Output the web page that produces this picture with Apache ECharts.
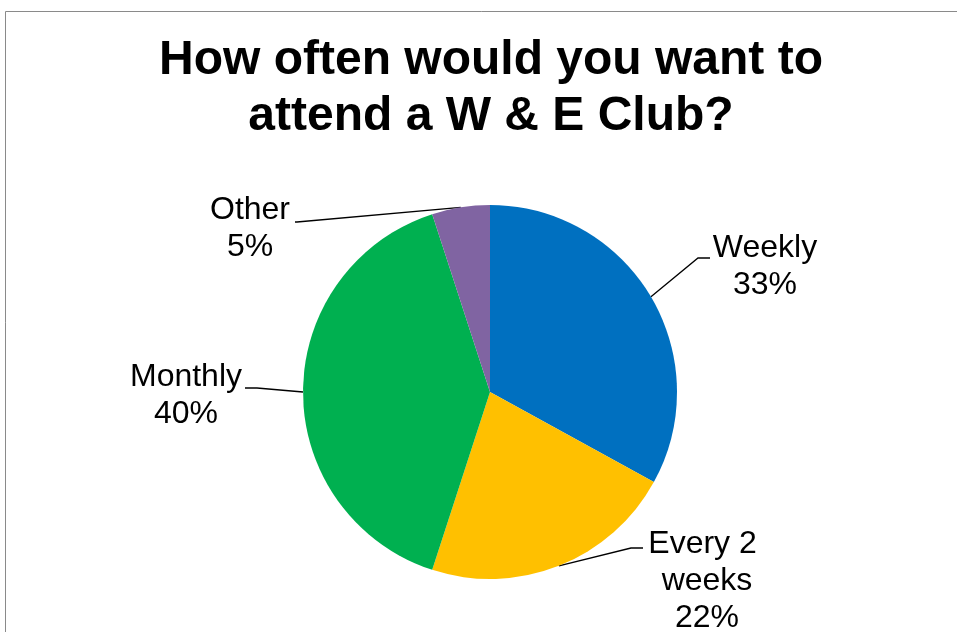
<!DOCTYPE html>
<html>
<head>
<meta charset="utf-8">
<script src="https://cdn.jsdelivr.net/npm/echarts@6/dist/echarts.min.js"></script>
<style>
  html, body { margin: 0; padding: 0; background: #fff; }
  #chart { width: 957px; height: 632px; }
</style>
</head>
<body>
<div id="chart"></div>
<script>
// Survey answers: how often people would attend
const categories = ['Weekly', 'Every 2 weeks', 'Monthly', 'Other'];
const shares = [33, 22, 40, 5];
const titleText = 'How often would you want to\nattend a W & E Club?';

const sliceColors = ['#0070C0', '#FFC000', '#00B050', '#8064A2'];
const FONT = "'Liberation Sans', Arial, Helvetica, sans-serif";

// Where each two/three-line label sits, and where its leader line ends
const labelSpots = [
  { x: 765, y: 267, endX: 710, endY: 258, bend: -12 },
  { x: 707, y: 581, endX: 643, endY: 548, bend: -12 },
  { x: 186, y: 396, endX: 245, endY: 388, bend: 12 },
  { x: 250, y: 229, endX: 295, endY: 222, bend: 2 }
];

const chart = echarts.init(document.getElementById('chart'), null, { renderer: 'canvas' });

chart.setOption({
  animation: false,
  backgroundColor: '#ffffff',
  color: sliceColors,
  graphic: [{
    type: 'rect',
    silent: true,
    shape: { x: 5.5, y: 11.5, width: 1200, height: 1200 },
    style: { fill: 'none', stroke: '#8a8a8a', lineWidth: 1 }
  }],
  title: {
    text: titleText,
    left: 491,
    textAlign: 'center',
    top: 33,
    padding: 0,
    textStyle: {
      fontFamily: FONT,
      fontSize: 48,
      fontWeight: 'bold',
      color: '#000',
      lineHeight: 56
    }
  },
  series: [{
    type: 'pie',
    center: [490, 392],
    radius: 187,
    startAngle: 90,
    clockwise: true,
    avoidLabelOverlap: false,
    data: categories.map((name, i) => ({ name: name, value: shares[i] })),
    itemStyle: { borderWidth: 0 },
    label: {
      show: true,
      position: 'outside',
      formatter: '{b}\n{c}%',
      fontFamily: FONT,
      fontSize: 32,
      lineHeight: 37,
      color: '#000',
      width: 128,
      overflow: 'break',
      align: 'center'
    },
    labelLine: {
      show: true,
      length: 20,
      length2: 10,
      smooth: false,
      lineStyle: { color: '#000', width: 1.3 }
    },
    labelLayout: function (p) {
      const s = labelSpots[p.dataIndex];
      const anchor = p.labelLinePoints ? p.labelLinePoints[0] : [s.endX, s.endY];
      return {
        x: s.x,
        y: s.y,
        align: 'center',
        verticalAlign: 'middle',
        labelLinePoints: [
          [anchor[0], anchor[1]],
          [s.endX + s.bend, s.endY],
          [s.endX, s.endY]
        ]
      };
    },
    emphasis: { disabled: true }
  }]
});
</script>
</body>
</html>
